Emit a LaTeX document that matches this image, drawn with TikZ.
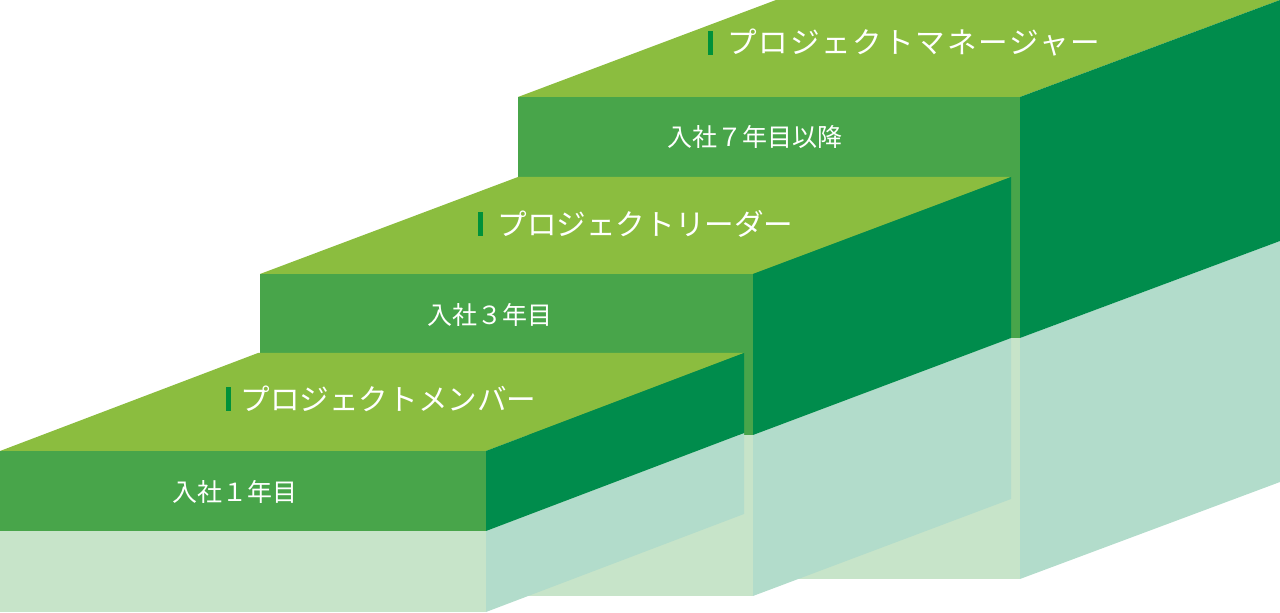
\documentclass[tikz,border=0pt]{standalone}
\usepackage{fontspec}
\newfontfamily\jpfont{Noto Sans CJK JP}
\definecolor{topgreen}{HTML}{8BBD3F}
\definecolor{frontgreen}{HTML}{48A54A}
\definecolor{sidegreen}{HTML}{008C4C}
\definecolor{frontshade}{HTML}{C7E4C9}
\definecolor{sideshade}{HTML}{B2DCCB}
\definecolor{markgreen}{HTML}{00913A}
\begin{document}
\begin{tikzpicture}[x=0.5pt, y=-0.5pt,
    yearlbl/.style={font=\jpfont\fontsize{12.5}{14}\selectfont, text=white, inner sep=0pt},
    steptitle/.style={font=\jpfont\fontsize{14.8}{16}\selectfont, text=white, inner sep=0pt, anchor=west}]
  \useasboundingbox (0,0) rectangle (1280,613);

  % Top step (drawn first, it sits at the back)
  \fill[frontshade] (518,338) rectangle (1020,579);
  \fill[sideshade] (1020,338) -- (1280,241) -- (1280,482) -- (1020,579) -- cycle;
  \fill[frontgreen] (518,97) rectangle (1020,338);
  \fill[topgreen] (518,97) -- (776,0) -- (1280,0) -- (1020,97) -- cycle;
  \fill[sidegreen] (1020,97) -- (1280,0) -- (1280,241) -- (1020,338) -- cycle;

  % Middle step
  \fill[frontshade] (260,435) rectangle (753,596);
  \fill[sideshade] (753,435) -- (1011,338) -- (1011,499) -- (753,596) -- cycle;
  \fill[frontgreen] (260,274) rectangle (753,435);
  \fill[topgreen] (260,274) -- (518,177) -- (1011,177) -- (753,274) -- cycle;
  \fill[sidegreen] (753,274) -- (1011,177) -- (1011,338) -- (753,435) -- cycle;

  % Bottom step
  \fill[frontshade] (0,531) rectangle (486,612);
  \fill[sideshade] (486,531) -- (744,433) -- (744,514) -- (486,612) -- cycle;
  \fill[frontgreen] (0,451) rectangle (486,531);
  \fill[topgreen] (0,451) -- (258,353) -- (744,353) -- (486,451) -- cycle;
  \fill[sidegreen] (486,451) -- (744,353) -- (744,433) -- (486,531) -- cycle;

  % Years on the front faces
  \node[yearlbl] (year1) at (235,492) {入社１年目};
  \node[yearlbl] (year3) at (490,315) {入社３年目};
  \node[yearlbl] (year7) at (755,137) {入社７年目以降};

  % Roles on the top faces, each with a small bar in front
  \fill[markgreen] (226,387) rectangle (231,411);
  \node[steptitle] (member) at (240,399) {プロジェクトメンバー};
  \fill[markgreen] (478,212) rectangle (483,236);
  \node[steptitle] (leader) at (497,224) {プロジェクトリーダー};
  \fill[markgreen] (708,31) rectangle (713,55);
  \node[steptitle, font=\jpfont\fontsize{14.8}{16}\selectfont\addfontfeature{LetterSpace=6}] (manager) at (727,43) {プロジェクトマネージャー};
\end{tikzpicture}
\end{document}
